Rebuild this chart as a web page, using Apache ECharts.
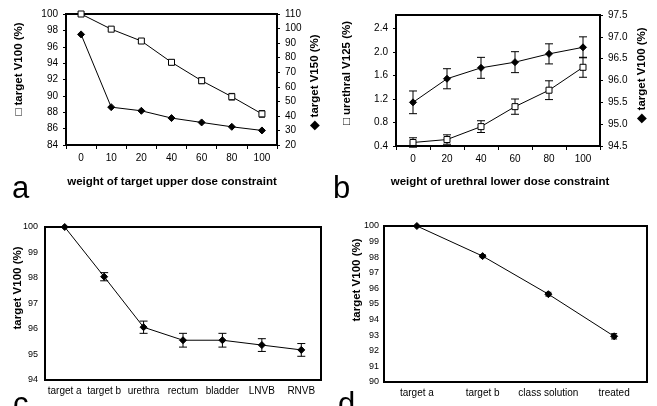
<!DOCTYPE html>
<html><head><meta charset="utf-8">
<script src="https://cdn.jsdelivr.net/npm/echarts@6/dist/echarts.min.js"></script>
<style>html,body{margin:0;padding:0;background:#fff}#c{width:657px;height:406px}</style>
</head><body><div id="c"></div>
<script>
// Panel a
const aCats = ['0','10','20','40','60','80','100'];
const aV100 = [100, 98.15, 96.7, 94.1, 91.85, 89.9, 87.8];
const aV100Err = [0, 0.12, 0.15, 0.3, 0.35, 0.4, 0.4];
const aV150 = [96, 46, 43.5, 38.5, 35.5, 32.5, 30];
// Panel b
const bCats = ['0','20','40','60','80','100'];
const bV125 = [0.46, 0.51, 0.73, 1.07, 1.35, 1.74];
const bV125Err = [0.08, 0.08, 0.1, 0.13, 0.16, 0.17];
const bV100 = [95.5, 96.04, 96.29, 96.42, 96.61, 96.76];
const bV100Err = [0.26, 0.23, 0.24, 0.24, 0.23, 0.24];
// Panel c
const cCats = ['target a','target b','urethra','rectum','bladder','LNVB','RNVB'];
const cV100 = [100, 98.05, 96.07, 95.56, 95.56, 95.37, 95.18];
const cV100Err = [0, 0.16, 0.24, 0.27, 0.27, 0.25, 0.25];
// Panel d
const dCats = ['target a','target b','class solution','treated'];
const dV100 = [100, 98.07, 95.63, 92.93];
const dV100Err = [0, 0.1, 0.12, 0.17];

const FONT = 'Liberation Sans, Arial, sans-serif';
const chart = echarts.init(document.getElementById('c'), null, {renderer:'canvas'});

function errSeries(cats, vals, errs, gi, yi, cap){
  return {
    type:'custom', xAxisIndex:gi, yAxisIndex:yi, z:3, silent:true,
    data: vals.map((v,i)=>[i, v-errs[i], v+errs[i]]).filter((d,i)=>errs[i]>0),
    renderItem:function(params, api){
      const lo = api.coord([api.value(0), api.value(1)]);
      const hi = api.coord([api.value(0), api.value(2)]);
      const st = {stroke:'#000', lineWidth:1};
      return {type:'group', children:[
        {type:'line', shape:{x1:lo[0],y1:lo[1],x2:hi[0],y2:hi[1]}, style:st},
        {type:'line', shape:{x1:lo[0]-cap,y1:lo[1],x2:lo[0]+cap,y2:lo[1]}, style:st},
        {type:'line', shape:{x1:hi[0]-cap,y1:hi[1],x2:hi[0]+cap,y2:hi[1]}, style:st}
      ]};
    }
  };
}
function lineSeries(vals, gi, yi, symbol, size, fill){
  return {type:'line', xAxisIndex:gi, yAxisIndex:yi, data:vals, symbol:symbol, symbolSize:size,
    showSymbol:true, animation:false, z:4,
    lineStyle:{color:'#000', width:1},
    itemStyle:{color:fill, borderColor:'#000', borderWidth:1}};
}
function catAxis(cats, gi, ticks, fs){
  return {type:'category', gridIndex:gi, data:cats, boundaryGap:true,
    axisLine:{lineStyle:{color:'#000', width:2}},
    axisTick:{show:ticks, length:4, lineStyle:{color:'#000'}},
    axisLabel:{color:'#000', fontFamily:FONT, fontSize:fs, margin:ticks?8:6, interval:0},
    splitLine:{show:false}};
}
function valAxis(gi, pos, min, max, interval, fs, margin, fmt, ticks){
  return {type:'value', gridIndex:gi, position:pos, min:min, max:max, interval:interval,
    axisLine:{show:true, lineStyle:{color:'#000', width:2}},
    axisTick:{show:ticks, length:3, lineStyle:{color:'#000'}},
    axisLabel:{color:'#000', fontFamily:FONT, fontSize:fs, margin:margin, formatter:fmt},
    splitLine:{show:false}};
}
const f0 = v=>String(Math.round(v*100)/100);
const f1 = v=>v.toFixed(1);

const grids = [
  {left:66, top:14, width:211, height:131},
  {left:396, top:15, width:204, height:131},
  {left:45, top:227, width:276, height:153},
  {left:384, top:226, width:263, height:156}
].map(g=>Object.assign(g,{show:true, borderColor:'#000', borderWidth:2, backgroundColor:'transparent'}));

function rtext(t, x, y, rot){
  return {type:'text', x:x, y:y, rotation:rot, style:{text:t, font:'bold 11.5px '+FONT, fill:'#000', textAlign:'center', textVerticalAlign:'middle'}};
}
function letter(t, x, y){
  return {type:'text', x:x, y:y, style:{text:t, font:'31px '+FONT, fill:'#000', textAlign:'left', textVerticalAlign:'bottom'}};
}

chart.setOption({
  animation:false,
  grid: grids,
  xAxis:[catAxis(aCats,0,true,10), catAxis(bCats,1,true,10), catAxis(cCats,2,false,10), catAxis(dCats,3,false,10)],
  yAxis:[
    valAxis(0,'left',84,100,2,10,8,f0,true),
    valAxis(0,'right',20,110,10,10,8,f0,true),
    Object.assign(valAxis(1,'left',0.4,2.63,0.4,10,8,f1,true),{axisLabel:{color:'#000', fontFamily:FONT, fontSize:10, margin:8, formatter:f1, showMaxLabel:false}}),
    valAxis(1,'right',94.5,97.5,0.5,10,8,f1,true),
    valAxis(2,'left',94,100,1,9,7,f0,false),
    valAxis(3,'left',90,100,1,9,5,f0,false)
  ],
  series:[
    errSeries(aCats,aV100,aV100Err,0,0,3),
    lineSeries(aV100,0,0,'rect',6,'#fff'),
    lineSeries(aV150,0,1,'diamond',7,'#000'),
    errSeries(bCats,bV125,bV125Err,1,2,4),
    lineSeries(bV125,1,2,'rect',6,'#fff'),
    errSeries(bCats,bV100,bV100Err,1,3,4),
    lineSeries(bV100,1,3,'diamond',7,'#000'),
    errSeries(cCats,cV100,cV100Err,2,4,4),
    lineSeries(cV100,2,4,'diamond',7,'#000'),
    errSeries(dCats,dV100,dV100Err,3,5,3),
    lineSeries(dV100,3,5,'diamond',7,'#000')
  ],
  graphic:[
    rtext('\u25A1 target V100 (%)', 19, 69, Math.PI/2),
    rtext('\u25C6 target V150 (%)', 315, 82, Math.PI/2),
    rtext('weight of target upper dose constraint', 172, 182, 0),
    rtext('\u25A1 urethral V125 (%)', 347, 73, Math.PI/2),
    rtext('\u25C6 target V100 (%)', 642, 75, Math.PI/2),
    rtext('weight of urethral lower dose constraint', 500, 182, 0),
    rtext('target V100 (%)', 18, 288, Math.PI/2),
    rtext('target V100 (%)', 357, 280, Math.PI/2),
    letter('a', 12, 205),
    letter('b', 333, 205),
    letter('c', 13, 421),
    letter('d', 338, 421)
  ]
});
</script></body></html>
